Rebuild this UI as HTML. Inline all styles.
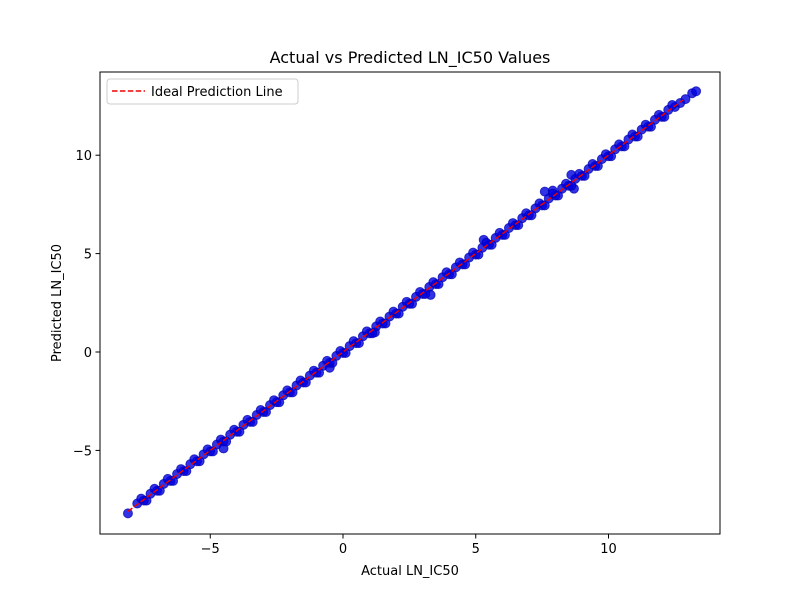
<!DOCTYPE html>
<html><head><meta charset="utf-8"><style>
body{margin:0;background:#fff;}
svg text{font-family:"DejaVu Sans","Liberation Sans",sans-serif;fill:#000;}
</style></head><body>
<svg id="chart" width="800" height="600" xmlns="http://www.w3.org/2000/svg">
<rect width="800" height="600" fill="#fff"/>
<g id="points"></g>
<g id="ideal"></g>
<rect x="100" y="72" width="620" height="462" fill="none" stroke="#000" stroke-width="1"/>
<g id="xticks"></g>
<g id="yticks"></g>
<text x="410" y="63" font-size="16" text-anchor="middle">Actual vs Predicted LN_IC50 Values</text>
<text x="410" y="575" font-size="13" text-anchor="middle">Actual LN_IC50</text>
<text transform="translate(61,303) rotate(-90)" font-size="13" text-anchor="middle">Predicted LN_IC50</text>
<g>
<rect x="107" y="79" width="191" height="25" rx="3" fill="#fff" fill-opacity="0.8" stroke="#ccc"/>
<line x1="112" y1="91" x2="145" y2="91" stroke="#e00" stroke-width="1.5" stroke-dasharray="5.5,2.4"/>
<text x="151" y="96" font-size="13">Ideal Prediction Line</text>
</g>
</svg>
<script>
const actual=[-8.1,-7.75,-7.5,-7.25,-7,-6.75,-6.5,-6.25,-6,-5.75,-5.5,-5.25,-5,-4.75,-4.5,-4.25,-4,-3.75,-3.5,-3.25,-3,-2.75,-2.5,-2.25,-2,-1.75,-1.5,-1.25,-1,-0.75,-0.5,-0.25,0,0.25,0.5,0.75,1,1.25,1.5,1.75,2,2.25,2.5,2.75,3,3.25,3.5,3.75,4,4.25,4.5,4.75,5,5.25,5.5,5.75,6,6.25,6.5,6.75,7,7.25,7.5,7.75,8,8.25,8.5,8.75,9,9.25,9.5,9.75,10,10.25,10.5,10.75,11,11.25,11.5,11.75,12,12.25,12.5,13.15,13.3,8.6,7.6,7.9,8.7,-4.5,5.3,1.2,-0.5,3.3];
const predicted=[-8.2,-7.7,-7.55,-7.2,-7.05,-6.7,-6.55,-6.2,-6.05,-5.7,-5.55,-5.2,-5.05,-4.7,-4.55,-4.2,-4.05,-3.7,-3.55,-3.2,-3.05,-2.7,-2.55,-2.2,-2.05,-1.7,-1.55,-1.2,-1.05,-0.7,-0.55,-0.2,-0.05,0.3,0.45,0.8,0.95,1.3,1.45,1.8,1.95,2.3,2.45,2.8,2.95,3.3,3.45,3.8,3.95,4.3,4.45,4.8,4.95,5.3,5.45,5.8,5.95,6.3,6.45,6.8,6.95,7.3,7.45,7.8,7.95,8.3,8.45,8.8,8.95,9.3,9.45,9.8,9.95,10.3,10.45,10.8,10.95,11.3,11.45,11.8,11.95,12.3,12.45,13.15,13.25,9.0,8.15,8.2,8.3,-4.9,5.7,1.0,-0.8,2.9];
const actual2=[-7.6,-7.4,-7.1,-6.9,-6.6,-6.4,-6.1,-5.9,-5.6,-5.4,-5.1,-4.9,-4.6,-4.4,-4.1,-3.9,-3.6,-3.4,-3.1,-2.9,-2.6,-2.4,-2.1,-1.9,-1.6,-1.4,-1.1,-0.9,-0.6,-0.4,-0.1,0.1,0.4,0.6,0.9,1.1,1.4,1.6,1.9,2.1,2.4,2.6,2.9,3.1,3.4,3.6,3.9,4.1,4.4,4.6,4.9,5.1,5.4,5.6,5.9,6.1,6.4,6.6,6.9,7.1,7.4,7.6,7.9,8.1,8.4,8.6,8.9,9.1,9.4,9.6,9.9,10.1,10.4,10.6,10.9,11.1,11.4,11.6,11.9,12.1,12.4,12.7,12.9];
const predicted2=[-7.45,-7.55,-6.95,-7.05,-6.45,-6.55,-5.95,-6.05,-5.45,-5.55,-4.95,-5.05,-4.45,-4.55,-3.95,-4.05,-3.45,-3.55,-2.95,-3.05,-2.45,-2.55,-1.95,-2.05,-1.45,-1.55,-0.95,-1.05,-0.45,-0.55,0.05,-0.05,0.55,0.45,1.05,0.95,1.55,1.45,2.05,1.95,2.55,2.45,3.05,2.95,3.55,3.45,4.05,3.95,4.55,4.45,5.05,4.95,5.55,5.45,6.05,5.95,6.55,6.45,7.05,6.95,7.55,7.45,8.05,7.95,8.55,8.45,9.05,8.95,9.55,9.45,10.05,9.95,10.55,10.45,11.05,10.95,11.55,11.45,12.05,11.95,12.55,12.65,12.85];
const xTicks=[-5,0,5,10];
const yTicks=[-5,0,5,10];
const NS="http://www.w3.org/2000/svg";
function sx(v){return 343+v*26.55;}
function sy(v){return 352-v*19.68;}
const pg=document.getElementById('points');
function drawSeries(xs,ys){
  const n=Math.min(xs.length,ys.length);
  for(let i=0;i<n;i++){
    const c=document.createElementNS(NS,'circle');
    c.setAttribute('cx',sx(xs[i]));c.setAttribute('cy',sy(ys[i]));
    c.setAttribute('r',4.5);c.setAttribute('fill','#0000e0');c.setAttribute('fill-opacity','0.8');
    c.setAttribute('stroke','#0000b0');c.setAttribute('stroke-opacity','0.7');c.setAttribute('stroke-width','1');
    
    
    pg.appendChild(c);
  }
}
drawSeries(actual,predicted);
drawSeries(actual2,predicted2);
const mn=Math.min(...actual), mx=Math.max(...actual);
const ln=document.createElementNS(NS,'line');
ln.setAttribute('x1',sx(mn));ln.setAttribute('y1',sy(mn));ln.setAttribute('x2',sx(mx-0.5));ln.setAttribute('y2',sy(mx-0.5));
ln.setAttribute('stroke','#e00');ln.setAttribute('stroke-width','1.5');ln.setAttribute('stroke-dasharray','5.5,2.4');


document.getElementById('ideal').appendChild(ln);
const xg=document.getElementById('xticks');
xTicks.forEach(t=>{
  const x=sx(t);
  const l=document.createElementNS(NS,'line');
  l.setAttribute('x1',x);l.setAttribute('x2',x);l.setAttribute('y1',534);l.setAttribute('y2',538.5);l.setAttribute('stroke','#000');
  
  
  xg.appendChild(l);
  const tx=document.createElementNS(NS,'text');
  tx.setAttribute('x',x);tx.setAttribute('y',553);tx.setAttribute('font-size','13');tx.setAttribute('text-anchor','middle');
  tx.textContent=t<0?'\u2212'+Math.abs(t):String(t);
  
  
  xg.appendChild(tx);
});
const yg=document.getElementById('yticks');
yTicks.forEach(t=>{
  const y=sy(t);
  const l=document.createElementNS(NS,'line');
  l.setAttribute('x1',95.5);l.setAttribute('x2',100);l.setAttribute('y1',y);l.setAttribute('y2',y);l.setAttribute('stroke','#000');
  
  
  yg.appendChild(l);
  const tx=document.createElementNS(NS,'text');
  tx.setAttribute('x',92);tx.setAttribute('y',y+5);tx.setAttribute('font-size','13');tx.setAttribute('text-anchor','end');
  tx.textContent=t<0?'\u2212'+Math.abs(t):String(t);
  
  
  yg.appendChild(tx);
});
</script>
</body></html>
